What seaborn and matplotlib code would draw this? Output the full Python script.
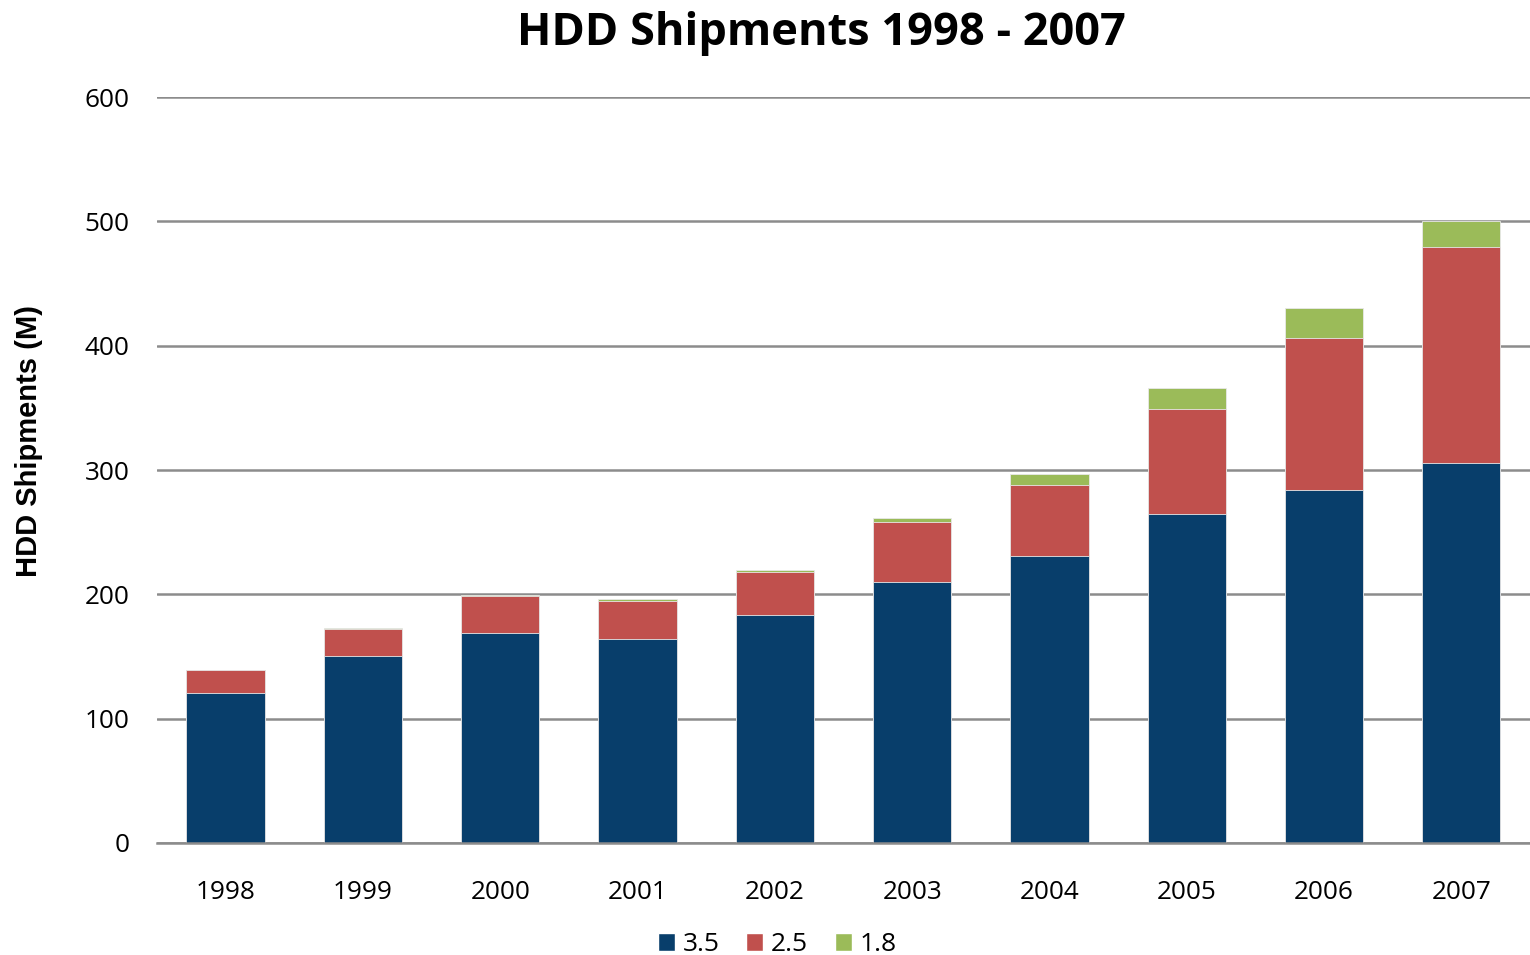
import pandas as pd
import matplotlib.pyplot as plt
import seaborn as sns
from matplotlib.patches import Patch

# values (millions of units)
years = ['1998', '1999', '2000', '2001', '2002', '2003', '2004', '2005', '2006', '2007']
ship_35 = [121, 150, 169, 164, 183, 210, 231, 265, 284, 306]
ship_25 = [18, 22, 30, 31, 35, 48, 57, 84, 122, 173]
ship_18 = [0, 1, 0.5, 1.5, 1.5, 3.5, 9, 17, 24, 21.5]

colors = {'3.5': '#083E6B', '2.5': '#C0504D', '1.8': '#9BBB59'}

df = pd.DataFrame({'year': years, '3.5': ship_35, '2.5': ship_25, '1.8': ship_18})
# cumulative heights so layers can be overdrawn from tallest to shortest
df['top_35'] = df['3.5']
df['top_25'] = df['top_35'] + df['2.5']
df['top_18'] = df['top_25'] + df['1.8']

sns.set_style('white')
plt.rcParams['font.family'] = ['Open Sans', 'DejaVu Sans']
plt.rcParams['text.color'] = 'black'
plt.rcParams['axes.labelcolor'] = 'black'

fig = plt.figure(figsize=(15.3, 9.55), dpi=100)
ax = fig.add_axes([0.1026, 0.1173, 0.8974, 0.7811])

for col, key in [('top_18', '1.8'), ('top_25', '2.5'), ('top_35', '3.5')]:
    sns.barplot(data=df, x='year', y=col, color=colors[key], width=0.57,
                saturation=1, edgecolor='#E8E8E8', linewidth=0.6, ax=ax)

ax.set_ylim(0, 600)
ax.set_xlim(-0.5, 9.5)
ax.set_yticks(range(0, 601, 100))
ax.yaxis.grid(True, color='#8C8C8C', linewidth=1.8)
ax.set_axisbelow(True)
for s in ['left', 'right', 'top']:
    ax.spines[s].set_visible(False)
ax.spines['bottom'].set_color('#8C8C8C')
ax.spines['bottom'].set_linewidth(1.8)
ax.tick_params(axis='both', length=0, labelsize=18.8, colors='black')
ax.tick_params(axis='x', pad=27)
ax.tick_params(axis='y', pad=20)

ax.set_xlabel('')
ax.set_ylabel('HDD Shipments (M)', fontsize=21, fontweight='bold',
              family='Liberation Sans', color='black')
ax.yaxis.set_label_coords(-0.083, 0.539)
fig.suptitle('HDD Shipments 1998 - 2007', fontsize=32.5, fontweight='bold',
             x=0.537, y=0.989, color='black')

handles = [Patch(facecolor=colors[k], label=k) for k in ['3.5', '2.5', '1.8']]
fig.legend(handles=handles, loc='center', bbox_to_anchor=(0.508, 0.011),
           ncol=3, frameon=False, fontsize=19, handlelength=0.65,
           handleheight=0.65, handletextpad=0.3, columnspacing=1.0)

plt.savefig('out.png', dpi=100)
